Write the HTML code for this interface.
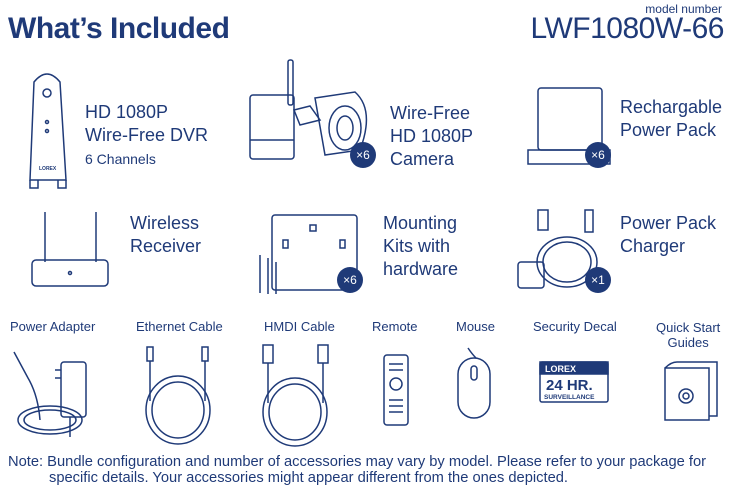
<!DOCTYPE html>
<html><head><meta charset="utf-8"><style>
body{margin:0;width:732px;height:492px;background:#fff;overflow:hidden;position:relative;font-family:"Liberation Sans",sans-serif;color:#1f3a78}
.t{position:absolute;white-space:nowrap;line-height:1}
svg{position:absolute;left:0;top:0}
</style></head><body>
<div class="t" style="left:8px;top:14px;font-size:30px;font-weight:bold;letter-spacing:-0.5px">What’s Included</div>
<div class="t" style="right:10px;top:3px;font-size:12px">model number</div>
<div class="t" style="right:8px;top:14px;font-size:30px;letter-spacing:-0.5px">LWF1080W-66</div>

<div class="t" style="left:85px;top:101px;font-size:18px;line-height:23px">HD 1080P<br>Wire-Free DVR</div>
<div class="t" style="left:85px;top:152px;font-size:14px">6 Channels</div>
<div class="t" style="left:390px;top:102px;font-size:18px;line-height:23px">Wire-Free<br>HD 1080P<br>Camera</div>
<div class="t" style="left:620px;top:96px;font-size:18px;line-height:23px">Rechargable<br>Power Pack</div>
<div class="t" style="left:130px;top:212px;font-size:18px;line-height:23px">Wireless<br>Receiver</div>
<div class="t" style="left:383px;top:212px;font-size:18px;line-height:23px">Mounting<br>Kits with<br>hardware</div>
<div class="t" style="left:620px;top:212px;font-size:18px;line-height:23px">Power Pack<br>Charger</div>

<div class="t" style="left:10px;top:320px;font-size:13px">Power Adapter</div>
<div class="t" style="left:136px;top:320px;font-size:13px">Ethernet Cable</div>
<div class="t" style="left:264px;top:320px;font-size:13px">HMDI Cable</div>
<div class="t" style="left:372px;top:320px;font-size:13px">Remote</div>
<div class="t" style="left:456px;top:320px;font-size:13px">Mouse</div>
<div class="t" style="left:533px;top:320px;font-size:13px">Security Decal</div>
<div class="t" style="left:656px;top:320px;font-size:13px;text-align:center;line-height:15px">Quick Start<br>Guides</div>

<div class="t" style="left:8px;top:454px;font-size:14.7px;line-height:16px">Note: Bundle configuration and number of accessories may vary by model. Please refer to your package for<br><span style="padding-left:41px">specific details. Your accessories might appear different from the ones depicted.</span></div>

<svg width="732" height="492" fill="none" stroke="#1f3a78" stroke-width="1.5">
<path d="M30 180 L34 82 Q47 66 60 82 L66 180 Z"/><circle cx="47" cy="93" r="4"/><circle cx="47" cy="122" r="1.5"/><circle cx="47" cy="131" r="1.5"/>
<path d="M30 180 v8 h8 v-8 M58 180 v8 h8 v-8"/>
<text x="39" y="170" font-size="5" fill="#1f3a78" stroke="none" font-weight="bold">LOREX</text>
<rect x="250" y="95" width="44" height="64" rx="3"/><line x1="250" y1="140" x2="294" y2="140"/>
<rect x="288" y="60" width="5" height="45" rx="2"/>
<path d="M294 110 L310 106 L320 120 L300 125 Z"/>
<path d="M315 98 L355 92 Q375 110 360 150 L325 155 Z"/><ellipse cx="345" cy="128" rx="16" ry="22"/><ellipse cx="345" cy="128" rx="8" ry="12"/>
<rect x="538" y="88" width="64" height="62" rx="3"/><path d="M528 150 h82 v14 h-82 z"/>
<rect x="32" y="260" width="76" height="26" rx="4"/><line x1="45" y1="212" x2="45" y2="262"/><line x1="96" y1="212" x2="96" y2="262"/><circle cx="70" cy="273" r="1.5"/>
<rect x="272" y="215" width="85" height="75" rx="3"/><rect x="283" y="240" width="5" height="8"/><rect x="340" y="240" width="5" height="8"/><rect x="310" y="225" width="6" height="6"/>
<path d="M260 255 v38 M268 258 v36 M276 262 v32"/>
<rect x="538" y="210" width="10" height="20"/><rect x="585" y="210" width="8" height="22"/>
<ellipse cx="567" cy="262" rx="30" ry="25"/><ellipse cx="567" cy="262" rx="24" ry="20"/>
<rect x="518" y="262" width="26" height="26" rx="3"/>
<g fill="#1f3a78" stroke="none"><circle cx="363" cy="155" r="13"/><circle cx="598" cy="155" r="13"/><circle cx="350" cy="280" r="13"/><circle cx="598" cy="280" r="13"/></g>
<g fill="#fff" stroke="none" font-size="12" text-anchor="middle"><text x="363" y="159">×6</text><text x="598" y="159">×6</text><text x="350" y="284">×6</text><text x="598" y="284">×1</text></g>
<rect x="61" y="362" width="25" height="55" rx="3"/><path d="M55 370 h6 M55 378 h6"/><path d="M14 352 L28 378 Q38 395 40 420"/><path d="M70 417 v20"/>
<ellipse cx="50" cy="420" rx="32" ry="14"/><ellipse cx="50" cy="420" rx="26" ry="10"/>
<rect x="147" y="347" width="6" height="14"/><rect x="202" y="347" width="6" height="14"/><path d="M150 361 v40 M205 361 v40"/>
<ellipse cx="178" cy="410" rx="32" ry="34"/><ellipse cx="178" cy="410" rx="26" ry="28"/>
<rect x="263" y="345" width="10" height="18"/><rect x="318" y="345" width="10" height="18"/><path d="M268 363 v40 M323 363 v40"/>
<ellipse cx="295" cy="412" rx="32" ry="34"/><ellipse cx="295" cy="412" rx="26" ry="28"/>
<rect x="384" y="355" width="24" height="70" rx="3"/><circle cx="396" cy="384" r="6"/><path d="M389 400 h14 M389 406 h14 M389 412 h14 M389 364 h14 M389 370 h14"/>
<path d="M468 348 q4 6 8 10"/><rect x="458" y="358" width="32" height="60" rx="16"/><rect x="471" y="366" width="6" height="14" rx="3"/>
<rect x="540" y="362" width="68" height="40" rx="2"/><rect x="540" y="362" width="68" height="12" fill="#1f3a78"/>
<text x="545" y="372" font-size="9" font-weight="bold" fill="#fff" stroke="none">LOREX</text>
<text x="546" y="390" font-size="15" font-weight="bold" fill="#1f3a78" stroke="none">24 HR.</text>
<text x="544" y="399" font-size="6.5" font-weight="bold" fill="#1f3a78" stroke="none">SURVEILLANCE</text>
<path d="M665 368 h44 v52 h-44 z M665 368 q6 -6 12 -6 h40 v54 h-8"/><circle cx="686" cy="396" r="7"/><circle cx="686" cy="396" r="3"/>
</svg>
</body></html>
